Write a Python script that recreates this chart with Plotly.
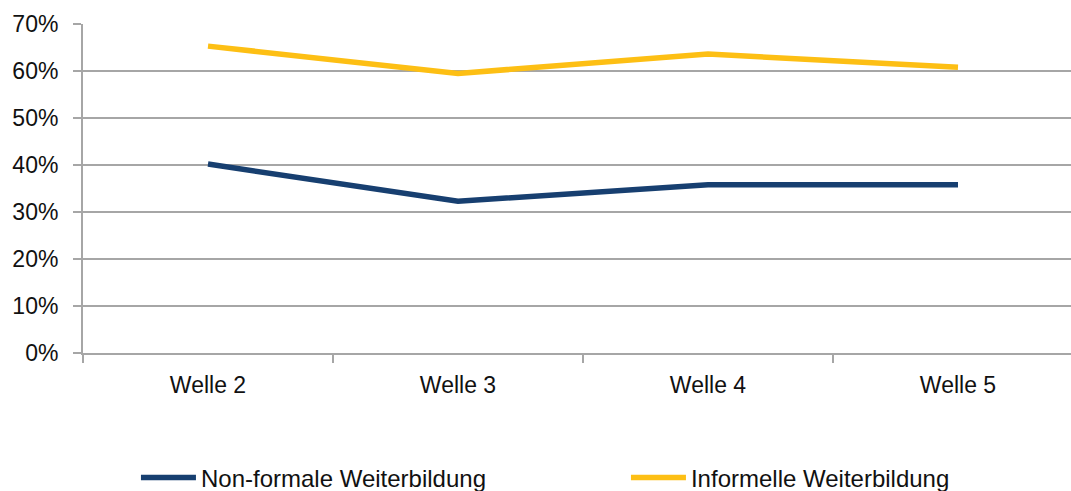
import plotly.graph_objects as go

categories = ["Welle 2", "Welle 3", "Welle 4", "Welle 5"]
non_formale = [0.402, 0.323, 0.358, 0.358]
informelle = [0.653, 0.595, 0.636, 0.608]
series_names = ["Non-formale Weiterbildung", "Informelle Weiterbildung"]
y_ticks = [0, 0.1, 0.2, 0.3, 0.4, 0.5, 0.6, 0.7]

BLUE = "#173F70"
YELLOW = "#FDBF14"
GRID = "#A6A6A6"
FONT = "Liberation Sans, Arial, sans-serif"

fig = go.Figure()
fig.add_trace(go.Scatter(x=categories, y=non_formale, mode="lines", name=series_names[0],
                         line=dict(color=BLUE, width=5.5)))
fig.add_trace(go.Scatter(x=categories, y=informelle, mode="lines", name=series_names[1],
                         line=dict(color=YELLOW, width=5.5)))

fig.update_layout(
    width=1071, height=491,
    margin=dict(l=83, r=0, t=24, b=138, autoexpand=False),
    paper_bgcolor="white", plot_bgcolor="white",
    font=dict(family=FONT, size=23, color="#111111"),
    showlegend=True,
    legend=dict(orientation="h", x=0.0536, xanchor="left", y=-0.38, yanchor="middle",
                entrywidth=420, entrywidthmode="pixels", itemwidth=55,
                font=dict(family=FONT, size=24, color="#111111"),
                bgcolor="rgba(0,0,0,0)"),
    xaxis=dict(type="category", categoryorder="array", categoryarray=categories,
               range=[-0.5, 3.452], showgrid=False, showline=True, linecolor=GRID, linewidth=2,
               ticks="outside", tickson="boundaries", ticklen=8, tickcolor=GRID, tickwidth=2,
               ticklabelstandoff=10, zeroline=False, automargin=False),
    yaxis=dict(range=[0, 0.7001], tickvals=y_ticks, tickformat=".0%",
               showgrid=True, gridcolor=GRID, gridwidth=2,
               showline=True, linecolor=GRID, linewidth=2,
               ticks="outside", ticklen=8, tickcolor=GRID, tickwidth=2,
               ticklabelstandoff=10, zeroline=False, automargin=False),
)

fig.write_html("out.html", config={"displayModeBar": False},
               post_script="document.body.style.margin='0';document.body.style.overflow='hidden';")
